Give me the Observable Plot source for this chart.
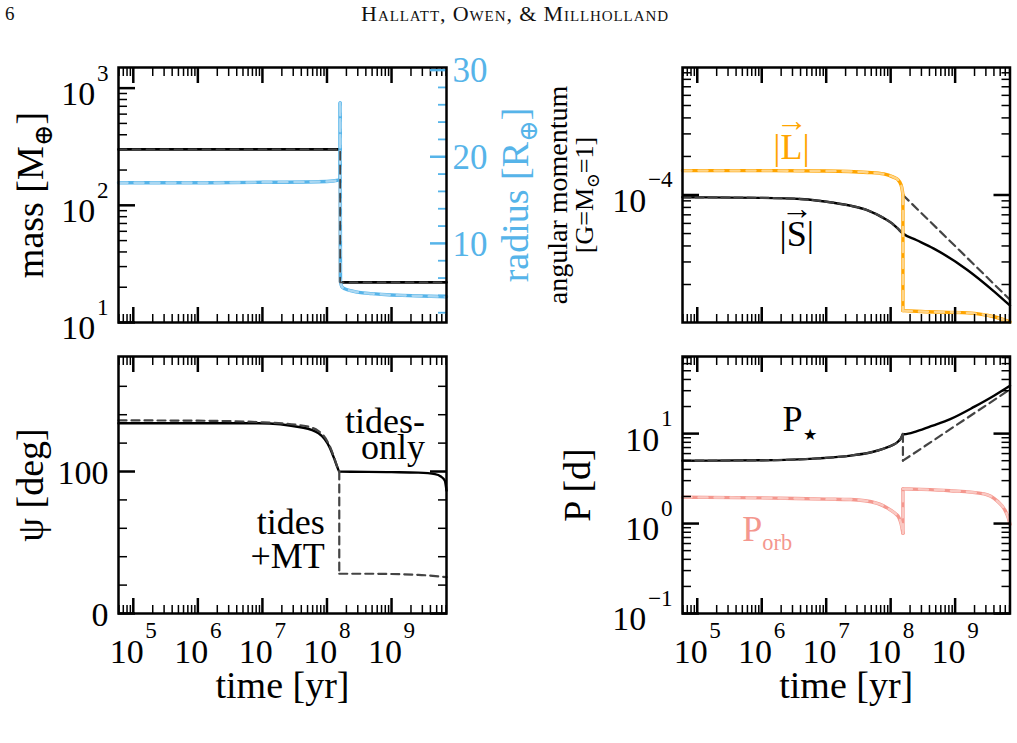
<!DOCTYPE html>
<html>
<head>
<meta charset="utf-8">
<script src="https://cdn.jsdelivr.net/npm/d3@7"></script>
<script src="https://cdn.jsdelivr.net/npm/@observablehq/plot@0.6"></script>
<style>
  body { margin: 0; background: #fff; }
  #fig { position: relative; width: 1017px; height: 743px; overflow: hidden;
         font-family: "Liberation Serif", "DejaVu Serif", serif; background: #fff; }
  #fig svg { position: absolute; left: 0; top: 0; }
  .hdr { position: absolute; color: #111; line-height: 1; }
</style>
</head>
<body>
<div id="fig">
  <div class="hdr" style="left:5px;top:4px;font-size:19px;">6</div>
  <div class="hdr" style="left:0;width:1030px;text-align:center;top:3px;font-size:22px;font-variant:small-caps;letter-spacing:0.9px;">Hallatt, Owen, &amp; Millholland</div>
</div>
<script>
// ---------------------------------------------------------------
// Data: planet/star evolution vs. time [yr]
// ---------------------------------------------------------------
const timeDomain = [5.9e4, 7.1e9];

// planet mass [M_earth]
const massT = [5.9e4, 1.6e8, 1.6e8, 7.1e9];
const massV = [300, 300, 22, 22];

// planet radius [R_earth]
const radT = [5.9e4, 1e6, 1e7, 1e8, 1.5e8, 1.6e8, 1.6e8, 1.62e8, 1.7e8, 1.9e8, 2.5e8, 3.1e8, 5e8, 1e9, 1.45e9, 3e9, 7.1e9];
const radV = [17.0, 17.0, 17.05, 17.15, 17.3, 17.4, 26.2, 5.6, 5.0, 4.75, 4.5, 4.35, 4.2, 4.05, 4.0, 3.92, 3.85];

// orbital angular momentum |L| [G = M_sun = 1]
const orbLT = [5.9e4, 1e6, 1e7, 4.4e7, 7.8e7, 1.1e8, 1.27e8, 1.45e8, 1.52e8, 1.55e8, 1.55e8, 3e8, 1.55e9, 4e9, 7.1e9];
const orbLV = [1.55e-4, 1.55e-4, 1.54e-4, 1.5e-4, 1.46e-4, 1.38e-4, 1.33e-4, 1.2e-4, 1.08e-4, 1.0e-4, 1.25e-5, 1.23e-5, 1.2e-5, 1.12e-5, 1.02e-5];

// stellar spin angular momentum |S|, tides-only
const spinT = [5.9e4, 1e6, 4e6, 1.3e7, 2.5e7, 4.4e7, 7.8e7, 1.05e8, 1.27e8, 1.55e8, 2.5e8, 4.6e8, 1.55e9, 4e9, 7.1e9];
const spinV = [9.6e-5, 9.5e-5, 9.3e-5, 8.7e-5, 8.2e-5, 7.6e-5, 6.6e-5, 6.0e-5, 5.5e-5, 5.0e-5, 4.45e-5, 3.83e-5, 2.6e-5, 1.77e-5, 1.37e-5];
// stellar spin angular momentum |S|, tides + mass transfer
const spinMtT = [5.9e4, 1e6, 4e6, 1.3e7, 2.5e7, 4.4e7, 7.8e7, 1.05e8, 1.27e8, 1.55e8, 1.55e8, 7.1e9];
const spinMtV = [9.6e-5, 9.5e-5, 9.3e-5, 8.7e-5, 8.2e-5, 7.6e-5, 6.6e-5, 6.0e-5, 5.5e-5, 5.0e-5, 1.0e-4, 1.52e-5];

// stellar obliquity psi [deg]
const psiT = [5.9e4, 1e6, 8.7e6, 4.1e7, 7.4e7, 1.1e8, 1.32e8, 1.45e8, 1.55e8, 1e9, 2.6e9, 4.7e9, 5.8e9, 6.7e9, 7.1e9];
const psiTides = [134, 134, 134, 131, 127, 117, 108, 103, 100, 99.6, 99.2, 98.2, 96.5, 93.5, 86.5];
const psiMtT = [5.9e4, 1e6, 8.7e6, 4.1e7, 7.4e7, 1.1e8, 1.32e8, 1.45e8, 1.55e8, 1.55e8, 4.4e8, 2.6e9, 7.1e9];
const psiMt = [136, 135.8, 134.8, 132.4, 128.5, 118, 108.5, 103, 100, 28, 28, 27.2, 25.6];

// stellar rotation period P_star [d]
const pStarT = [5.9e4, 1e6, 7.4e6, 2.4e7, 5e7, 7.8e7, 1.05e8, 1.26e8, 1.45e8, 1.55e8, 1.62e8, 2.57e8, 4.5e8, 8.4e8, 2e9, 4e9, 7.1e9];
const pStar = [5.0, 5.05, 5.3, 5.7, 6.2, 6.8, 7.4, 8.0, 8.9, 9.9, 9.85, 10.66, 12.27, 14.5, 19.95, 26.4, 34.1];
const pStarMtT = [5.9e4, 1e6, 7.4e6, 2.4e7, 5e7, 7.8e7, 1.05e8, 1.26e8, 1.45e8, 1.55e8, 1.55e8, 7.1e9];
const pStarMt = [5.0, 5.05, 5.3, 5.7, 6.2, 6.8, 7.4, 8.0, 8.9, 9.9, 5.0, 31];

// orbital period P_orb [d]
const pOrbT = [5.9e4, 1e6, 1e7, 2.4e7, 6.2e7, 1.0e8, 1.2e8, 1.34e8, 1.45e8, 1.55e8, 1.55e8, 3e8, 8.4e8, 2.8e9, 4.5e9, 6.0e9, 6.7e9, 7.1e9];
const pOrb = [1.96, 1.93, 1.87, 1.85, 1.68, 1.41, 1.28, 1.17, 1.0, 0.78, 2.43, 2.4, 2.32, 2.14, 1.78, 1.39, 1.15, 0.98];

// tick values and labels
const timeTicks = [1e5, 1e6, 1e7, 1e8, 1e9];
const timeTickLabels = ["10^{5}", "10^{6}", "10^{7}", "10^{8}", "10^{9}"];
const massTicks = [10, 100, 1000];
const massTickLabels = ["10^{1}", "10^{2}", "10^{3}"];
const radiusTicks = [10, 20, 30];
const radiusTickLabels = ["10", "20", "30"];
const radiusMinor = [2, 4, 6, 8, 12, 14, 16, 18, 22, 24, 26, 28];
const angTicks = [1e-4];
const angTickLabels = ["10^{−4}"];
const psiTicks = [0, 100];
const psiTickLabels = ["0", "100"];
const psiMinor = [20, 40, 60, 80, 120, 140, 160];
const periodTicks = [0.1, 1, 10];
const periodTickLabels = ["10^{−1}", "10^{0}", "10^{1}"];

// ---------------------------------------------------------------
// Styling and layout
// ---------------------------------------------------------------
const W = 1017, H = 743;
const FONT = '"Liberation Serif", "DejaVu Serif", serif';
const BLUE = "#56B4E9", BLUE_LIGHT = "#A9D7F2";
const ORANGE = "#FFA500", ORANGE_LIGHT = "#FFD58A";
const SALMON = "#F4978E", SALMON_LIGHT = "#FAC9C3";
const GRAY = "#444";
const TICK_FS = 34, LABEL_FS = 38, NOTE_FS = 36;

const boxTL = {left: 118, right: 446, top: 67, bottom: 322};
const boxTR = {left: 682, right: 1009.5, top: 67, bottom: 322};
const boxBL = {left: 118, right: 446, top: 356, bottom: 613};
const boxBR = {left: 682, right: 1009.5, top: 356, bottom: 613};

// split a series into smooth pieces joined by vertical jumps (repeated times)
function segRows(T, V) {
  const out = [];
  let s = 0;
  for (let i = 0; i < T.length; i++) {
    if (i > 0 && T[i] === T[i - 1]) {
      out.push({t: T[i - 1], v: V[i - 1], s: s + 1}, {t: T[i], v: V[i], s: s + 1});
      s += 2;
    }
    out.push({t: T[i], v: V[i], s});
  }
  return out;
}
const curveLine = (T, V, opts) =>
  Plot.line(segRows(T, V), {x: "t", y: "v", z: "s", curve: "monotone-x", strokeLinejoin: "round", ...opts});

const isPow10 = v => Math.abs(Math.log10(v) - Math.round(Math.log10(v))) < 1e-6;
const logMinor = dom => d3.scaleLog().domain(dom).ticks().filter(v => !isPow10(v));

const timeMinor = logMinor(timeDomain);
const massDomain = [10, 1500];
const radiusDomain = [0.87, 30.3];
const angDomain = [1.01e-5, 9.9e-4];
const psiDomain = [0, 181];
const periodDomain = [0.1, 72];

// inward tick marks (no text)
const tickX = (data, anchor, len, sw) =>
  Plot.axisX(data, {anchor, tickSize: -len, strokeWidth: sw, color: "black", fill: "none", label: null});
const tickY = (data, anchor, len, sw, color = "black") =>
  Plot.axisY(data, {anchor, tickSize: -len, strokeWidth: sw, color, fill: "none", label: null});
// tick labels (no tick marks)
const textY = (data, labels, anchor, {pad = 10, dy = 0, color = "black", fontSize = TICK_FS} = {}) =>
  Plot.axisY(data, {anchor, tickSize: 0, tickPadding: pad, dy, color, fontSize,
    tickFormat: d => labels[data.indexOf(d)], label: null});
// rotated axis title at the left/right of a frame
const yTitle = (text, anchor, dx, fontSize, fill = "black") =>
  Plot.text([text], {text: d => d, frameAnchor: anchor, rotate: -90, dx, fontSize, fill,
    textAnchor: "middle", lineAnchor: "middle"});

function timeFrameTicks(labelled) {
  const m = [
    tickX(timeMinor, "bottom", 8, 1.5), tickX(timeMinor, "top", 8, 1.5),
    tickX(timeTicks, "bottom", 15, 2.5), tickX(timeTicks, "top", 15, 2.5)
  ];
  if (labelled) {
    m.push(Plot.axisX(timeTicks, {anchor: "bottom", tickSize: 0, tickPadding: 25, color: "black", fontSize: TICK_FS,
      tickFormat: d => timeTickLabels[timeTicks.indexOf(d)], label: null}));
    m.push(Plot.text(["time [yr]"], {text: d => d, frameAnchor: "bottom", dy: 72, fontSize: LABEL_FS, fill: "black",
      textAnchor: "middle", lineAnchor: "middle"}));
  }
  return m;
}

function layer(box, y, marks) {
  return Plot.plot({
    width: W, height: H,
    marginLeft: box.left, marginRight: W - box.right,
    marginTop: box.top, marginBottom: H - box.bottom,
    style: {background: "transparent", overflow: "visible", fontFamily: FONT},
    x: {type: "log", domain: timeDomain, axis: null},
    y: {...y, axis: null},
    marks
  });
}

// convert ^{..} and _{..} (optionally ^[scale]{..}) into raised / lowered tspans
function richText(root) {
  const NS = "http://www.w3.org/2000/svg";
  root.querySelectorAll("text").forEach(el => {
    if (el.querySelector("tspan")) return;
    const s = el.textContent;
    if (!/[\^_](\[[\d.]+\])?\{/.test(s)) return;
    const fs = parseFloat(getComputedStyle(el).fontSize);
    el.textContent = "";
    let shift = 0;
    const re = /([\^_])(?:\[([\d.]+)\])?\{([^}]*)\}|([^\^_]+)/g;
    let m;
    while ((m = re.exec(s))) {
      const t = document.createElementNS(NS, "tspan");
      let target;
      if (m[4] !== undefined) {
        target = 0;
        t.textContent = m[4];
      } else {
        const k = m[2] ? +m[2] : 0.68;
        target = m[1] === "^" ? -0.72 * fs : 0.25 * fs;
        t.textContent = m[3];
        t.setAttribute("font-size", (k * fs).toFixed(2));
        if (m[1] === "^") t.setAttribute("dx", (0.05 * fs).toFixed(2));
      }
      if (target !== shift) { t.setAttribute("dy", (target - shift).toFixed(2)); shift = target; }
      el.appendChild(t);
    }
  });
}

const fig = document.getElementById("fig");
function add(svg) { fig.appendChild(svg); richText(svg); }

// ---------------------------------------------------------------
// Top left: planet mass (log, left) and radius (linear, right)
// ---------------------------------------------------------------
add(layer(boxTL, {type: "log", domain: massDomain}, [
  Plot.line(segRows(massT, massV), {x: "t", y: "v", stroke: "black", strokeWidth: 2.6}),
  ...timeFrameTicks(false),
  tickY(logMinor(massDomain), "left", 9, 1.5),
  tickY(massTicks, "left", 17, 2.5),
  textY(massTicks, massTickLabels, "left", {dy: 6}),
  yTitle("mass [M_{⊕}]", "left", -88, LABEL_FS)
]));

add(layer(boxTL, {type: "linear", domain: radiusDomain}, [
  curveLine(radT, radV, {stroke: BLUE, strokeWidth: 3.4, strokeLinecap: "round"}),
  curveLine(radT, radV, {stroke: BLUE_LIGHT, strokeWidth: 2.4, strokeDasharray: "9,7"}),
  tickY(radiusMinor, "right", 9, 1.8, BLUE),
  tickY(radiusTicks, "right", 17, 2.5, BLUE),
  textY(radiusTicks, radiusTickLabels, "right", {pad: 6, dy: 1, color: BLUE, fontSize: 35}),
  yTitle("radius [R_{⊕}]", "right", 69, LABEL_FS, BLUE)
]));

add(layer(boxTL, {type: "log", domain: massDomain}, [
  Plot.line(segRows(massT, massV), {x: "t", y: "v", stroke: GRAY, strokeWidth: 1.8, strokeDasharray: "8,6"}),
  Plot.frame({stroke: "black", strokeWidth: 2.5})
]));

// ---------------------------------------------------------------
// Top right: angular momenta
// ---------------------------------------------------------------
const angNotes = [
  {t: 2.9e6, v: 2.36e-4, text: "|L|"},
  {t: 3.5e6, v: 4.9e-5, text: "|S|"}
];
add(layer(boxTR, {type: "log", domain: angDomain}, [
  curveLine(spinT, spinV, {stroke: "black", strokeWidth: 2.4}),
  curveLine(spinMtT, spinMtV, {stroke: GRAY, strokeWidth: 2.2, strokeDasharray: "8,5"}),
  curveLine(orbLT, orbLV, {stroke: ORANGE, strokeWidth: 3.4}),
  curveLine(orbLT, orbLV, {stroke: ORANGE_LIGHT, strokeWidth: 2.4, strokeDasharray: "9,7"}),
  Plot.text(angNotes.slice(0, 1), {x: "t", y: "v", text: "text", fill: ORANGE, fontSize: NOTE_FS}),
  Plot.text(angNotes.slice(0, 1), {x: "t", y: "v", text: () => "→", fill: ORANGE, fontSize: 32, dy: -26}),
  Plot.text(angNotes.slice(1), {x: "t", y: "v", text: "text", fill: "black", fontSize: NOTE_FS}),
  Plot.text(angNotes.slice(1), {x: "t", y: "v", text: () => "→", fill: "black", fontSize: 32, dy: -26}),
  ...timeFrameTicks(false),
  tickY(logMinor(angDomain), "left", 9, 1.5),
  tickY(logMinor(angDomain), "right", 9, 1.5),
  tickY(angTicks, "left", 17, 2.5),
  tickY(angTicks, "right", 17, 2.5),
  textY(angTicks, angTickLabels, "left", {dy: 6}),
  yTitle("angular momentum", "left", -124, 28),
  yTitle("[G=M_{⊙}=1]", "left", -98, 26),
  Plot.frame({stroke: "black", strokeWidth: 2.5})
]));

// ---------------------------------------------------------------
// Bottom left: stellar obliquity
// ---------------------------------------------------------------
const psiNotes = [
  {t: 3.3e9, v: 135.2, text: "tides-"},
  {t: 3.3e9, v: 116.9, text: "only"},
  {t: 9.25e7, v: 64.1, text: "tides"},
  {t: 9.25e7, v: 40.1, text: "+MT"}
];
add(layer(boxBL, {type: "linear", domain: psiDomain}, [
  curveLine(psiT, psiTides, {stroke: "black", strokeWidth: 2.4}),
  curveLine(psiMtT, psiMt, {stroke: GRAY, strokeWidth: 2.2, strokeDasharray: "8,5"}),
  Plot.text(psiNotes, {x: "t", y: "v", text: "text", textAnchor: "end", fill: "black", fontSize: NOTE_FS}),
  ...timeFrameTicks(true),
  tickY(psiMinor, "left", 9, 1.5),
  tickY(psiMinor, "right", 9, 1.5),
  tickY(psiTicks, "left", 17, 2.5),
  tickY(psiTicks, "right", 17, 2.5),
  textY(psiTicks, psiTickLabels, "left", {dy: 2}),
  yTitle("ψ [deg]", "left", -88, LABEL_FS),
  Plot.frame({stroke: "black", strokeWidth: 2.5})
]));

// ---------------------------------------------------------------
// Bottom right: stellar rotation and orbital periods
// ---------------------------------------------------------------
const periodNotes = [
  {t: 2.1e6, v: 14.3, text: "P_[0.45]{★}"},
  {t: 5.0e5, v: 0.857, text: "P_[0.62]{orb}"}
];
add(layer(boxBR, {type: "log", domain: periodDomain}, [
  curveLine(pOrbT, pOrb, {stroke: SALMON, strokeWidth: 3.4}),
  curveLine(pOrbT, pOrb, {stroke: SALMON_LIGHT, strokeWidth: 2.4, strokeDasharray: "9,7"}),
  curveLine(pStarT, pStar, {stroke: "black", strokeWidth: 2.4}),
  curveLine(pStarMtT, pStarMt, {stroke: GRAY, strokeWidth: 2.2, strokeDasharray: "8,5"}),
  Plot.text(periodNotes.slice(0, 1), {x: "t", y: "v", text: "text", textAnchor: "start", fill: "black", fontSize: NOTE_FS}),
  Plot.text(periodNotes.slice(1), {x: "t", y: "v", text: "text", textAnchor: "start", fill: SALMON, fontSize: NOTE_FS}),
  ...timeFrameTicks(true),
  tickY(logMinor(periodDomain), "left", 9, 1.5),
  tickY(logMinor(periodDomain), "right", 9, 1.5),
  tickY(periodTicks, "left", 17, 2.5),
  tickY(periodTicks, "right", 17, 2.5),
  textY(periodTicks, periodTickLabels, "left", {dy: 6}),
  yTitle("P [d]", "left", -105, LABEL_FS),
  Plot.frame({stroke: "black", strokeWidth: 2.5})
]));
</script>
</body>
</html>
